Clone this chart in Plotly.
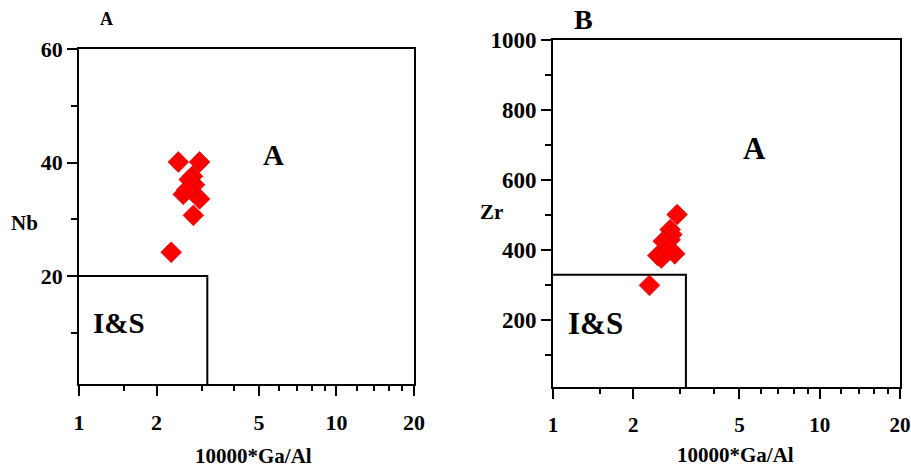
import math
import plotly.graph_objects as go

# ---------------- data ----------------
ga_al_nb = [2.43, 2.94, 2.76, 2.81, 2.68, 2.54, 2.62, 2.94, 2.78, 2.28]
nb_vals = [40.1, 40.1, 37.6, 36.1, 37.0, 34.4, 35.2, 33.6, 30.7, 24.2]

ga_al_zr = [2.92, 2.75, 2.79, 2.59, 2.75, 2.47, 2.55, 2.86, 2.75, 2.30]
zr_vals = [502, 459, 445, 426, 430, 385, 378, 390, 402, 300]

# I&S field boundaries
bound_nb_x = [1, 3.15, 3.15]
bound_nb_y = [20, 20, 1]
bound_zr_x = [1, 3.15, 3.15]
bound_zr_y = [330, 330, 10]

x_major = [1, 2, 5, 10, 20]
x_minor = [1.5, 3, 4, 6, 7, 8, 9, 12, 14, 16, 18]
nb_major = [20, 40, 60]
nb_minor = [10, 30, 50]
zr_major = [200, 400, 600, 800, 1000]
zr_minor = [100, 300, 500, 700, 900]

# ---------------- figure ----------------
W, H = 911, 470
FONT = "Liberation Serif"
fig = go.Figure()

def px_x(p):
    return p / W

def px_y(p):
    return 1 - p / H

line_style = dict(color="black", width=2)
marker_style = dict(symbol="diamond", size=16, color="#ff0000",
                    line=dict(color="#c00000", width=0.6))

fig.add_trace(go.Scatter(x=bound_nb_x, y=bound_nb_y, mode="lines", line=line_style,
                         xaxis="x", yaxis="y", showlegend=False, hoverinfo="skip",
                         cliponaxis=False))
fig.add_trace(go.Scatter(x=ga_al_nb, y=nb_vals, mode="markers", marker=marker_style,
                         xaxis="x", yaxis="y", showlegend=False, cliponaxis=False))
fig.add_trace(go.Scatter(x=bound_zr_x, y=bound_zr_y, mode="lines", line=line_style,
                         xaxis="x2", yaxis="y2", showlegend=False, hoverinfo="skip",
                         cliponaxis=False))
fig.add_trace(go.Scatter(x=ga_al_zr, y=zr_vals, mode="markers", marker=marker_style,
                         xaxis="x2", yaxis="y2", showlegend=False, cliponaxis=False))

def xaxis_cfg(domain, anchor, size):
    return dict(
        type="log", domain=domain, anchor=anchor, automargin=False,
        range=[0, math.log10(20)],
        tickmode="array", tickvals=x_major, ticktext=[str(v) for v in x_major],
        ticks="outside", ticklen=10, tickwidth=1.6, tickcolor="black",
        minor=dict(tickmode="array", tickvals=x_minor, ticks="outside",
                   ticklen=5, tickwidth=1.6, tickcolor="black", showgrid=False),
        showline=True, linecolor="black", linewidth=1.6, mirror=True,
        showgrid=False, zeroline=False, ticklabelstandoff=8,
        tickfont=dict(family=FONT, size=size, color="black", weight="bold"),
    )

def yaxis_cfg(domain, anchor, rng, major, minor, size):
    return dict(
        domain=domain, anchor=anchor, range=rng, automargin=False,
        tickmode="array", tickvals=major, ticktext=[str(v) for v in major],
        ticks="outside", ticklen=10, tickwidth=1.6, tickcolor="black",
        minor=dict(tickmode="array", tickvals=minor, ticks="outside",
                   ticklen=6, tickwidth=1.6, tickcolor="black", showgrid=False),
        showline=True, linecolor="black", linewidth=1.6, mirror=True,
        showgrid=False, zeroline=False,
        tickfont=dict(family=FONT, size=size, color="black", weight="bold"),
    )

fig.update_layout(
    template="none",
    width=W, height=H,
    margin=dict(l=0, r=0, t=0, b=0, pad=0),
    paper_bgcolor="white", plot_bgcolor="white",
    xaxis=xaxis_cfg([px_x(79), px_x(414)], "y", 22),
    yaxis=yaxis_cfg([px_y(384), px_y(49)], "x", [1, 60], nb_major, nb_minor, 22),
    xaxis2=xaxis_cfg([px_x(553), px_x(900)], "y2", 21),
    yaxis2=yaxis_cfg([px_y(387), px_y(40)], "x2", [10, 1000], zr_major, zr_minor, 23),
)

def label(text, cx, cy, size):
    fig.add_annotation(text=text, x=px_x(cx), y=px_y(cy), xref="paper", yref="paper",
                       showarrow=False, xanchor="center", yanchor="middle",
                       font=dict(family=FONT, size=size, color="black", weight="bold"))

label("A", 106, 19, 18)
label("B", 583, 20, 28)
label("A", 273, 155, 29)
label("I&amp;S", 119, 323, 29)
label("A", 754, 148, 31)
label("I&amp;S", 595, 323, 31)
label("Nb", 24, 223, 21)
label("Zr", 492, 212, 21)
label("10000*Ga/Al", 253, 456, 21)
label("10000*Ga/Al", 735, 455, 21)

fig.write_html("out.html")
